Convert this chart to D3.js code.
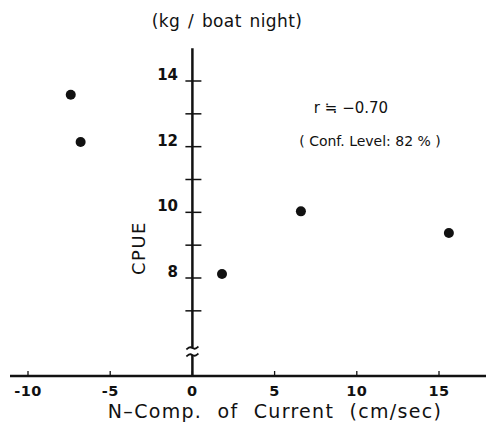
<!DOCTYPE html>
<html>
<head>
<meta charset="utf-8">
<script src="https://cdn.jsdelivr.net/npm/d3@7"></script>
<style>
  body { margin: 0; background: #fff; }
  text { font-family: "DejaVu Sans", "Liberation Sans", sans-serif; fill: #111; }
</style>
</head>
<body>
<script>
'use strict';

// N-component of current (cm/sec) and CPUE (kg/boat night)
let current = [-7.4, -6.8, 1.8, 6.6, 15.6];
let cpue = [13.58, 12.14, 8.12, 10.03, 9.37];

let xTicks = [-10, -5, 0, 5, 10, 15];
let yTicks = [7, 8, 9, 10, 11, 12, 13, 14];
let yLabels = [8, 10, 12, 14];

(function() {
  let svg = d3.select('body').append('svg')
    .attr('width', 486)
    .attr('height', 437);

  let xScale = d3.scaleLinear().domain([-10, 15]).range([28, 439]);
  let yScale = d3.scaleLinear().domain([8, 14]).range([278, 81]);

  let axisY = 376; // where the x axis sits
  let x0 = xScale(0);

  // x axis line
  svg.append('line')
    .attr('x1', 10).attr('x2', 486)
    .attr('y1', axisY).attr('y2', axisY)
    .attr('stroke', '#111').attr('stroke-width', 2.5);

  // x ticks (small, pointing up)
  svg.selectAll('.xtick')
    .data(xTicks)
    .enter().append('line')
      .attr('x1', d => xScale(d)).attr('x2', d => xScale(d))
      .attr('y1', axisY - 5).attr('y2', axisY)
      .attr('stroke', '#111').attr('stroke-width', 1.3);

  svg.selectAll('.xlab')
    .data(xTicks)
    .enter().append('text')
      .attr('x', d => xScale(d))
      .attr('y', 396)
      .attr('text-anchor', 'middle')
      .attr('font-size', 14.5)
      .attr('font-weight', 'bold')
      .attr('letter-spacing', 0.5)
      .text(d => d);

  // y axis, broken near the bottom
  svg.append('line')
    .attr('x1', x0).attr('x2', x0)
    .attr('y1', yScale(15)).attr('y2', 348)
    .attr('stroke', '#111').attr('stroke-width', 2.5);
  svg.append('line')
    .attr('x1', x0).attr('x2', x0)
    .attr('y1', 355).attr('y2', axisY)
    .attr('stroke', '#111').attr('stroke-width', 2.5);

  // break marks
  let brk = d3.line().curve(d3.curveBasis);
  [348, 355].forEach(by => {
    svg.append('path')
      .attr('d', brk([[x0 - 6, by + 1.5], [x0 - 2, by - 2], [x0 + 2, by + 2], [x0 + 6, by - 1.5]]))
      .attr('fill', 'none')
      .attr('stroke', '#111')
      .attr('stroke-width', 1.8);
  });

  // y ticks crossing the axis
  svg.selectAll('.ytick')
    .data(yTicks)
    .enter().append('line')
      .attr('x1', x0 - 7).attr('x2', x0 + 9)
      .attr('y1', d => yScale(d)).attr('y2', d => yScale(d))
      .attr('stroke', '#111').attr('stroke-width', 1.5);

  svg.selectAll('.ylab')
    .data(yLabels)
    .enter().append('text')
      .attr('x', 178)
      .attr('y', d => yScale(d) - 1)
      .attr('text-anchor', 'end')
      .attr('font-size', 15)
      .attr('font-weight', 'bold')
      .text(d => d);

  // points
  svg.selectAll('.dot')
    .data(current)
    .enter().append('circle')
      .attr('cx', d => xScale(d))
      .attr('cy', (d, i) => yScale(cpue[i]))
      .attr('r', 5)
      .attr('fill', '#111');

  // titles
  svg.append('text')
    .attr('x', 227).attr('y', 27)
    .attr('text-anchor', 'middle')
    .attr('font-size', 17)
    .attr('letter-spacing', 0.4)
    .attr('word-spacing', 2)
    .text('(kg / boat night)');

  svg.append('text')
    .attr('x', 275).attr('y', 418)
    .attr('text-anchor', 'middle')
    .attr('font-size', 19)
    .attr('letter-spacing', 1.3)
    .attr('word-spacing', 8)
    .text('N\u2013Comp. of Current (cm/sec)');

  svg.append('text')
    .attr('transform', 'translate(145, 248) rotate(-90)')
    .attr('text-anchor', 'middle')
    .attr('font-size', 18)
    .attr('letter-spacing', 1.5)
    .text('CPUE');

  svg.append('text')
    .attr('x', 351).attr('y', 113)
    .attr('text-anchor', 'middle')
    .attr('font-size', 15)
    .text('r \u2252 \u22120.70');

  svg.append('text')
    .attr('x', 370).attr('y', 146)
    .attr('text-anchor', 'middle')
    .attr('font-size', 14)
    .text('( Conf. Level: 82 % )');
})();
</script>
</body>
</html>
